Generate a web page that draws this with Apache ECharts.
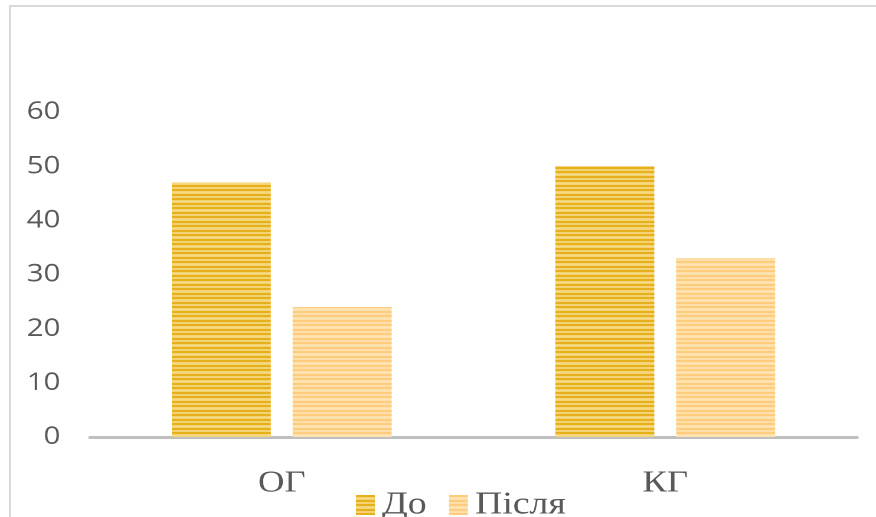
<!DOCTYPE html>
<html>
<head>
<meta charset="utf-8">
<script src="https://cdn.jsdelivr.net/npm/echarts@6/dist/echarts.min.js"></script>
<style>
  html, body { margin: 0; padding: 0; background: #fff; overflow: hidden; width: 876px; height: 517px; }
  #frame { position: absolute; left: 9px; top: 5px; right: 0; bottom: 0;
           border-left: 2px solid #d9d9d9; border-top: 2px solid #d9d9d9; }
  /* the chart is laid out narrower and widened, which gives its lettering the wide look */
  #chart { position: absolute; left: 0; top: 0; width: 742px; height: 517px;
           transform: scaleX(1.1806); transform-origin: 0 0; }
</style>
</head>
<body>
<div id="frame"></div>
<div id="chart"></div>
<script>
// Categories, series and axis ticks
const categories = ['ОГ', 'КГ'];
const seriesNames = ['До', 'Після'];
const valuesBefore = [47, 50];
const valuesAfter = [24, 33];
const yTicks = [0, 10, 20, 30, 40, 50, 60];

// Horizontal striped fill, drawn into a small tile and repeated
function stripes(dark, light) {
  const c = document.createElement('canvas');
  c.width = 8; c.height = 9;
  const g = c.getContext('2d');
  g.fillStyle = light; g.fillRect(0, 0, 8, 9);
  g.fillStyle = dark;
  g.fillRect(0, 0, 8, 2);
  g.fillRect(0, 5, 8, 2);
  return { image: c, repeat: 'repeat' };
}

const fillBefore = stripes('#E4AB0C', '#F6D983');
const fillAfter = stripes('#FFC977', '#FFE3B2');

const chart = echarts.init(document.getElementById('chart'), null, { renderer: 'canvas', devicePixelRatio: 2 });
chart.setOption({
  backgroundColor: 'transparent',
  animation: false,
  grid: { left: 76.2, right: 16.1, top: 112, bottom: 80, containLabel: false },
  legend: {
    data: seriesNames,
    top: 489,
    left: 301.5,
    padding: 0,
    itemWidth: 16,
    itemHeight: 20,
    itemGap: 19,
    icon: 'rect',
    textStyle: { fontFamily: 'Liberation Serif', fontSize: 32, color: '#595959', padding: [0, 0, 0, 1] }
  },
  xAxis: {
    type: 'category',
    data: categories,
    axisLine: { lineStyle: { color: '#bfbfbf', width: 3 } },
    axisTick: { show: false },
    axisLabel: { fontFamily: 'Liberation Serif', fontSize: 31, color: '#595959', margin: 31 }
  },
  yAxis: {
    type: 'value',
    min: yTicks[0],
    max: yTicks[yTicks.length - 1],
    interval: 10,
    axisLine: { show: false },
    axisTick: { show: false },
    splitLine: { show: false },
    axisLabel: { fontFamily: 'Open Sans', fontSize: 25, color: '#595959', margin: 25 }
  },
  series: [
    { name: seriesNames[0], type: 'bar', data: valuesBefore, barWidth: 83.9, barGap: '22%',
      itemStyle: { color: fillBefore } },
    { name: seriesNames[1], type: 'bar', data: valuesAfter, barWidth: 83.9,
      itemStyle: { color: fillAfter } }
  ]
});
</script>
</body>
</html>
